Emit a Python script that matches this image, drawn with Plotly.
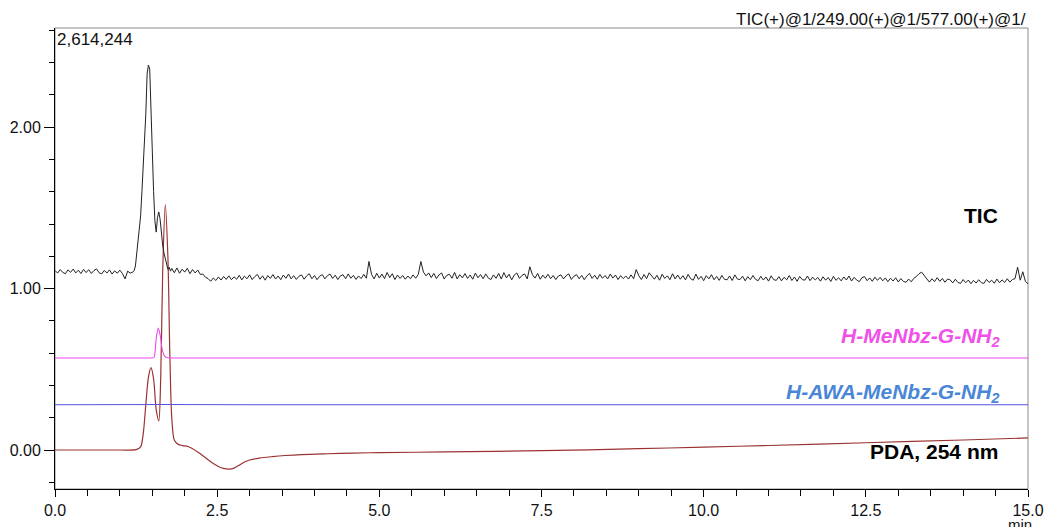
import numpy as np
import plotly.graph_objects as go

# ---------------- data ----------------
# TIC (x 1e6 counts), sampled in three time blocks
tic_early = [  # 0.00 - 1.16 min, step 0.04
    1.112, 1.096, 1.118, 1.100, 1.092, 1.116, 1.101, 1.121, 1.097, 1.114,
    1.093, 1.119, 1.099, 1.117, 1.094, 1.112, 1.122, 1.098, 1.091, 1.113,
    1.096, 1.116, 1.090, 1.110, 1.095, 1.114, 1.093, 1.060, 1.108, 1.096,
]
tic_peak = [  # 1.20 - 1.78 min, step 0.02
    1.102, 1.112, 1.140, 1.220, 1.300, 1.370, 1.450, 1.600, 1.740, 1.880,
    2.080, 2.330, 2.385, 2.360, 2.060, 1.820, 1.600, 1.420, 1.350, 1.440,
    1.475, 1.430, 1.330, 1.270, 1.220, 1.180, 1.145, 1.120, 1.132, 1.108,
]
tic_late = [  # 1.80 - 15.00 min, step 0.04 (one row per minute)
    1.125, 1.098, 1.128, 1.095, 1.120, 1.102, 1.126, 1.092, 1.118, 1.097, 1.115, 1.088, 1.090,
    1.070, 1.062, 1.045, 1.066, 1.050, 1.072, 1.053, 1.075, 1.057, 1.079, 1.055, 1.073,
    1.058, 1.082, 1.054, 1.077, 1.061, 1.085, 1.056, 1.074, 1.088, 1.058, 1.079, 1.052, 1.081,
    1.063, 1.087, 1.059, 1.078, 1.055, 1.084, 1.064, 1.090, 1.060, 1.080, 1.057, 1.076,
    1.085, 1.058, 1.079, 1.092, 1.061, 1.081, 1.055, 1.077, 1.087, 1.060, 1.080, 1.090, 1.063,
    1.083, 1.056, 1.079, 1.086, 1.061, 1.091, 1.064, 1.082, 1.057, 1.078, 1.062, 1.088,
    1.064, 1.168, 1.088, 1.060, 1.095, 1.065, 1.090, 1.062, 1.100, 1.068, 1.092, 1.056, 1.084,
    1.063, 1.081, 1.058, 1.078, 1.061, 1.085, 1.064, 1.088, 1.168, 1.102, 1.079, 1.097,
    1.068, 1.094, 1.062, 1.085, 1.097, 1.059, 1.082, 1.089, 1.064, 1.100, 1.060, 1.086, 1.066,
    1.093, 1.063, 1.084, 1.058, 1.096, 1.067, 1.087, 1.061, 1.091, 1.065, 1.056, 1.085,
    1.064, 1.094, 1.059, 1.099, 1.066, 1.089, 1.054, 1.084, 1.097, 1.063, 1.082, 1.091, 1.060,
    1.135, 1.086, 1.065, 1.094, 1.058, 1.083, 1.064, 1.089, 1.061, 1.081, 1.056, 1.078,
    1.085, 1.060, 1.080, 1.091, 1.057, 1.077, 1.086, 1.061, 1.082, 1.055, 1.079, 1.094, 1.063,
    1.083, 1.058, 1.088, 1.064, 1.081, 1.060, 1.090, 1.065, 1.084, 1.056, 1.080, 1.062,
    1.078, 1.059, 1.085, 1.061, 1.118, 1.080, 1.056, 1.087, 1.062, 1.098, 1.077, 1.058, 1.082,
    1.052, 1.089, 1.063, 1.079, 1.055, 1.092, 1.060, 1.084, 1.058, 1.080, 1.054, 1.088,
    1.061, 1.052, 1.090, 1.057, 1.076, 1.049, 1.080, 1.060, 1.086, 1.055, 1.075, 1.051, 1.082,
    1.058, 1.054, 1.078, 1.050, 1.085, 1.059, 1.056, 1.077, 1.048, 1.074, 1.055, 1.081,
    1.057, 1.049, 1.076, 1.053, 1.072, 1.046, 1.079, 1.055, 1.051, 1.074, 1.048, 1.070, 1.054,
    1.081, 1.050, 1.072, 1.045, 1.075, 1.056, 1.052, 1.078, 1.049, 1.071, 1.053, 1.069,
    1.046, 1.073, 1.052, 1.069, 1.044, 1.076, 1.051, 1.067, 1.048, 1.072, 1.053, 1.078, 1.047,
    1.070, 1.052, 1.043, 1.068, 1.074, 1.049, 1.066, 1.045, 1.071, 1.051, 1.069, 1.048,
    1.066, 1.043, 1.064, 1.047, 1.067, 1.041, 1.062, 1.044, 1.039, 1.059, 1.042, 1.064, 1.075,
    1.092, 1.102, 1.080, 1.060, 1.040, 1.061, 1.043, 1.068, 1.045, 1.063, 1.039, 1.059,
    1.054, 1.035, 1.058, 1.038, 1.032, 1.056, 1.036, 1.053, 1.030, 1.051, 1.034, 1.055, 1.037,
    1.032, 1.057, 1.038, 1.052, 1.033, 1.059, 1.036, 1.054, 1.038, 1.061, 1.040, 1.056,
    1.062, 1.132, 1.052, 1.104, 1.044, 1.030,
]

# PDA 254 nm trace (offset scale)
pda_time = [0.0, 1.00, 1.25, 1.32, 1.36, 1.40, 1.44, 1.48, 1.52, 1.56, 1.60, 1.63, 1.66,
            1.70, 1.74, 1.77, 1.80, 1.84, 1.90, 1.97, 2.05, 2.12, 2.20, 2.28, 2.36, 2.44,
            2.52, 2.60, 2.68, 2.76, 2.84, 2.92, 3.00, 3.15, 3.35, 3.55, 3.80, 4.20, 4.60,
            5.00, 6.00, 7.50, 9.00, 10.00, 11.00, 12.50, 14.00, 15.00]
pda_signal = [0.000, 0.000, 0.002, 0.020, 0.100, 0.280, 0.450, 0.510, 0.440, 0.250, 0.180,
              0.450, 1.100, 1.520, 1.200, 0.600, 0.200, 0.060, 0.035, 0.027, 0.022, 0.008,
              -0.012, -0.035, -0.060, -0.083, -0.102, -0.114, -0.118, -0.112, -0.094, -0.074,
              -0.062, -0.050, -0.041, -0.034, -0.028, -0.023, -0.019, -0.016, -0.012, -0.004,
              0.008, 0.018, 0.028, 0.045, 0.062, 0.075]

# Extracted ion trace, H-MeNbz-G-NH2
mz249_time = [0.0, 1.00, 1.45, 1.50, 1.53, 1.56, 1.59, 1.62, 1.65, 1.69, 1.74, 1.80,
              2.00, 3.00, 6.00, 10.00, 15.0]
mz249_signal = [0.570, 0.570, 0.570, 0.570, 0.576, 0.690, 0.755, 0.715, 0.630, 0.582,
                0.571, 0.570, 0.570, 0.570, 0.570, 0.570, 0.570]

# Extracted ion trace, H-AWA-MeNbz-G-NH2
mz577_time = [0.0, 1.20, 1.45, 1.55, 1.70, 3.00, 6.00, 9.00, 12.00, 15.0]
mz577_signal = [0.280, 0.281, 0.284, 0.281, 0.282, 0.280, 0.281, 0.280, 0.281, 0.280]

x_ticks_major = [0.0, 2.5, 5.0, 7.5, 10.0, 12.5, 15.0]
y_ticks_major = [0.0, 1.0, 2.0]
y_top = 2.614244

# ---------------- time axes of the TIC blocks ----------------
tic_time = np.concatenate([
    np.arange(len(tic_early)) * 0.04,
    1.20 + np.arange(len(tic_peak)) * 0.02,
    1.80 + np.arange(len(tic_late)) * 0.04,
])
tic_signal = tic_early + tic_peak + tic_late

FONT = "Liberation Sans, Arial, sans-serif"

fig = go.Figure()
fig.add_trace(go.Scatter(x=pda_time, y=pda_signal, mode="lines",
                         line=dict(color="#9b3232", width=1.2, shape="spline", smoothing=0.8),
                         hoverinfo="skip"))
fig.add_trace(go.Scatter(x=mz577_time, y=mz577_signal, mode="lines",
                         line=dict(color="#5454e6", width=1.1),
                         hoverinfo="skip"))
fig.add_trace(go.Scatter(x=mz249_time, y=mz249_signal, mode="lines",
                         line=dict(color="#f048f0", width=1.1, shape="spline", smoothing=0.5),
                         hoverinfo="skip"))
fig.add_trace(go.Scatter(x=tic_time, y=tic_signal, mode="lines",
                         line=dict(color="#222222", width=1.0),
                         hoverinfo="skip"))

annotations = [
    dict(text="2,614,244", xref="paper", yref="paper", x=0, y=1, xanchor="left",
         yanchor="top", xshift=0, yshift=0, showarrow=False,
         font=dict(family=FONT, size=17, color="#111")),
    dict(text="TIC(+)@1/249.00(+)@1/577.00(+)@1/", xref="paper", yref="paper", x=1,
         y=1.0195, xanchor="right", yanchor="middle", showarrow=False,
         font=dict(family=FONT, size=17, color="#111")),
    dict(text="<b>TIC</b>", xref="paper", yref="y", x=0.971, y=1.455, xanchor="right",
         yanchor="middle", showarrow=False, font=dict(family=FONT, size=21, color="#000")),
    dict(text="<b><i>H-MeNbz-G-NH<sub>2</sub></i></b>", xref="paper", yref="y", x=0.973,
         y=0.70, xanchor="right", yanchor="middle", showarrow=False,
         font=dict(family=FONT, size=21, color="#f050e8")),
    dict(text="<b><i>H-AWA-MeNbz-G-NH<sub>2</sub></i></b>", xref="paper", yref="y", x=0.973,
         y=0.355, xanchor="right", yanchor="middle", showarrow=False,
         font=dict(family=FONT, size=21, color="#4a86d6")),
    dict(text="<b>PDA, 254 nm</b>", xref="paper", yref="y", x=0.971, y=-0.012,
         xanchor="right", yanchor="middle", showarrow=False,
         font=dict(family=FONT, size=21, color="#000")),
    dict(text="min", xref="paper", yref="paper", x=0.992, y=-0.078, xanchor="center",
         yanchor="middle", showarrow=False, font=dict(family=FONT, size=15, color="#111")),
]

fig.update_layout(
    width=1047, height=527, autosize=False,
    margin=dict(l=55, r=19, t=28, b=38, pad=0),
    paper_bgcolor="white", plot_bgcolor="white",
    showlegend=False,
    annotations=annotations,
    shapes=[dict(type="rect", xref="paper", yref="paper", x0=0, x1=1, y0=0, y1=1,
                 line=dict(color="#8a8a8a", width=1), layer="below")],
)
fig.update_xaxes(
    range=[0, 15], showgrid=False, zeroline=False, automargin=False,
    showline=True, linecolor="#000", linewidth=1,
    tickmode="array", tickvals=x_ticks_major,
    ticktext=[f"{v:.1f}" for v in x_ticks_major],
    ticks="outside", ticklen=7, tickcolor="#000",
    minor=dict(dtick=0.5, tick0=0, ticks="outside", ticklen=6, tickcolor="#000", showgrid=False),
    tickfont=dict(family=FONT, size=16, color="#111"),
)
fig.update_yaxes(
    range=[-0.2415, y_top], showgrid=False, zeroline=False, automargin=False,
    showline=True, linecolor="#000", linewidth=1,
    tickmode="array", tickvals=y_ticks_major,
    ticktext=[f"{v:.2f}" for v in y_ticks_major],
    ticks="outside", ticklen=10, tickcolor="#000",
    minor=dict(dtick=0.2, tick0=0, ticks="outside", ticklen=5, tickcolor="#000", showgrid=False),
    tickfont=dict(family=FONT, size=16, color="#111"),
)

fig.write_html("out.html")
